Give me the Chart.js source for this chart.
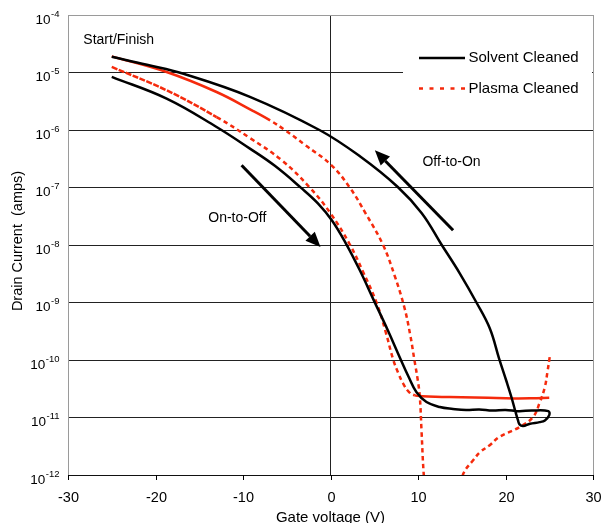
<!DOCTYPE html>
<html>
<head>
<meta charset="utf-8">
<title>Transfer curves</title>
<script src="https://cdn.jsdelivr.net/npm/chart.js@4.4.1/dist/chart.umd.min.js"></script>
<style>
  html, body { margin: 0; padding: 0; background: #fff; }
  #wrap { width: 603px; height: 523px; position: relative; }
</style>
</head>
<body>
<div id="wrap"><canvas id="ivChart"></canvas></div>
<script>
// gate sweep -25 V -> +25 V -> -25 V, drain current in amps
const solventVolts = [
  -25, -18.73, -13.02, -9.21, -6.36, -3.39, -1.44, 0.15, 1.75, 3.35, 4.95,
  6.55, 7.92, 8.95, 9.83, 10.97, 12.49,
  14, 15.5, 17, 18.5, 20, 21.5, 23, 24.9,
  25, 24.5, 23.9, 22.8, 22, 21.6, 21.43, 21.06, 20.68, 20.11, 19.26, 18.2,
  16.68, 14.77, 12.68, 10.43, 7.69, 3.36, -1.21, -9.21, -16.8, -20.98, -25
];
const solventAmps = [
  8.4e-6, 3.52e-6, 1.13e-6, 4.75e-7, 2.38e-7, 9.95e-8, 5.3e-8, 2.69e-8,
  1.07e-8, 3.63e-9, 1.09e-9, 3.29e-10, 1.11e-10, 5.0e-11, 2.74e-11, 1.86e-11,
  1.52e-11,
  1.41e-11, 1.35e-11, 1.38e-11, 1.32e-11, 1.35e-11, 1.29e-11, 1.32e-11,
  1.29e-11,
  1.1e-11, 8.9e-12, 8.3e-12, 7.8e-12, 7.1e-12, 7.6e-12, 8.9e-12, 1.39e-11,
  2.25e-11, 4.27e-11, 1.07e-10, 3.56e-10,
  1.0e-9, 3.22e-9, 1.02e-8, 3.56e-8, 1.02e-7, 3.49e-7, 9.9e-7, 3.78e-6,
  9.5e-6, 1.36e-5, 1.875e-5
];

// plasma cleaned, on-to-off sweep
const plasmaFwdVolts = [
  -25, -18.73, -13.02, -9.21, -5.56, -2.36, 0, 2.21, 3.69, 5.26, 6.32, 7.16,
  7.75, 8.3, 8.95, 9.63, 10.5, 12, 15, 18, 21, 23, 25
];
const plasmaFwdAmps = [
  1.25e-5, 4.9e-6, 1.68e-6, 7.26e-7, 2.97e-7, 9.95e-8, 3.56e-8, 1.02e-8,
  3.5e-9, 1.0e-9, 3.03e-10, 1.02e-10, 5.9e-11, 3.9e-11, 2.8e-11, 2.43e-11,
  2.35e-11, 2.3e-11, 2.26e-11, 2.2e-11, 2.15e-11, 2.16e-11, 2.2e-11
];

// plasma cleaned, off-to-on sweep (dips below 1e-12 near 11-14 V)
const plasmaRevVolts = [
  25.05, 24.8, 24.5, 23.9, 23.15, 21.6, 19.3, 18.2, 17.1, 16.3, 15.2, 14.6,
  10.9, 10.66, 10.4, 10.21, 9.98, 9.58, 9.12, 8.43, 7.35, 6.01, 4.04, 2.21,
  0.12, -2.93, -5.21, -6.9, -8.98, -13.02, -18.73, -25
];
const plasmaRevAmps = [
  1.12e-10, 6.3e-11, 3.4e-11, 1.8e-11, 1.02e-11, 6.8e-12, 4.6e-12, 3.3e-12,
  2.5e-12, 1.8e-12, 1.07e-12, 5e-13,
  5e-13, 1.0e-12, 5.98e-12, 2.28e-11, 4.4e-11, 1.02e-10, 2.69e-10, 8.36e-10,
  2.86e-9, 1.0e-8, 3.49e-8, 9.95e-8, 2.43e-7, 5.53e-7, 1.0e-6, 1.47e-6,
  2.2e-6, 4.58e-6, 1.02e-5, 1.91e-5
];

const seriesNames = ['Solvent Cleaned', 'Plasma Cleaned'];
const xTickValues = [-30, -20, -10, 0, 10, 20, 30];
const yTickPowers = [-12, -11, -10, -9, -8, -7, -6, -5, -4];

const FONT = "'Liberation Sans', Arial, sans-serif";
const BLACK = '#000000';
const RED = '#f52a0c';
const DASH = [4.5, 3.5];
const FINE_DASH = [6, 1.5];

// text labels and sweep-direction arrows, placed in data units
const notes = [
  { text: 'Start/Finish', x: -28.25, y: 3.7e-5 },
  { text: 'On-to-Off', x: -13.97, y: 2.9e-8 },
  { text: 'Off-to-On', x: 10.51, y: 2.78e-7 }
];
const arrows = [
  { from: [-10.16, 2.43e-7], to: [-1.14, 9.2e-9] },
  { from: [14.01, 1.8e-8], to: [5.07, 4.44e-7] }
];

function toPoints(xs, ys) {
  return xs.map((v, i) => ({ x: v, y: ys[i] }));
}

function drawArrow(ctx, x1, y1, x2, y2) {
  const ang = Math.atan2(y2 - y1, x2 - x1);
  const head = 15, half = 6.5;
  const bx = x2 - head * Math.cos(ang);
  const by = y2 - head * Math.sin(ang);
  ctx.lineWidth = 3;
  ctx.beginPath();
  ctx.moveTo(x1, y1);
  ctx.lineTo(bx, by);
  ctx.stroke();
  ctx.beginPath();
  ctx.moveTo(x2, y2);
  ctx.lineTo(bx + half * Math.sin(ang), by - half * Math.cos(ang));
  ctx.lineTo(bx - half * Math.sin(ang), by + half * Math.cos(ang));
  ctx.closePath();
  ctx.fill();
}

const overlay = {
  id: 'overlay',
  afterDatasetsDraw(chart) {
    const { ctx, chartArea: area } = chart;
    const x = chart.scales.x, y = chart.scales.y;
    ctx.save();
    ctx.fillStyle = '#000';
    ctx.strokeStyle = '#000';

    // x ticks and labels
    ctx.lineWidth = 1;
    ctx.font = '14.5px ' + FONT;
    ctx.textAlign = 'center';
    ctx.textBaseline = 'alphabetic';
    xTickValues.forEach(v => {
      const px = Math.round(x.getPixelForValue(v)) + 0.5;
      ctx.beginPath();
      ctx.moveTo(px, area.bottom);
      ctx.lineTo(px, area.bottom + 5);
      ctx.stroke();
      ctx.fillText(String(v), px, area.bottom + 27);
    });

    // y labels as powers of ten
    ctx.textAlign = 'left';
    yTickPowers.forEach(p => {
      const py = y.getPixelForValue(Number('1e' + p));
      const exp = String(p);
      ctx.font = '9.5px ' + FONT;
      const we = ctx.measureText(exp).width;
      ctx.font = '13.5px ' + FONT;
      const wb = ctx.measureText('10').width;
      const x0 = area.left - 9 - we - wb;
      ctx.fillText('10', x0, py + 8.5);
      ctx.font = '9.5px ' + FONT;
      ctx.fillText(exp, x0 + wb + 0.5, py + 1.5);
    });

    // axis titles
    ctx.font = '15px ' + FONT;
    ctx.textAlign = 'center';
    ctx.fillText('Gate voltage (V)', (area.left + area.right) / 2, area.bottom + 46.5);
    ctx.save();
    ctx.translate(18, (area.top + area.bottom) / 2 - 4);
    ctx.rotate(-Math.PI / 2);
    ctx.textBaseline = 'middle';
    ctx.font = '14.5px ' + FONT;
    ctx.fillText('Drain Current  (amps)', 0, 0);
    ctx.restore();

    // notes and arrows
    ctx.font = '14px ' + FONT;
    ctx.textAlign = 'left';
    ctx.textBaseline = 'middle';
    notes.forEach(n => {
      ctx.fillText(n.text, x.getPixelForValue(n.x), y.getPixelForValue(n.y));
    });
    arrows.forEach(a => {
      drawArrow(ctx,
        x.getPixelForValue(a.from[0]), y.getPixelForValue(a.from[1]),
        x.getPixelForValue(a.to[0]), y.getPixelForValue(a.to[1]));
    });

    // legend box inside the plot, top right
    const boxW = 190, boxL = area.right - boxW, boxT = area.top + 26;
    ctx.fillStyle = '#fff';
    ctx.fillRect(boxL, boxT, boxW - 1, 64);
    const rows = [
      { name: seriesNames[0], color: BLACK, dash: [] },
      { name: seriesNames[1], color: RED, dash: [4, 6.5] }
    ];
    ctx.font = '15px ' + FONT;
    rows.forEach((r, i) => {
      const ry = boxT + 17 + i * 30.5;
      ctx.strokeStyle = r.color;
      ctx.lineWidth = 2.5;
      ctx.setLineDash(r.dash);
      ctx.beginPath();
      ctx.moveTo(boxL + 16, ry);
      ctx.lineTo(boxL + 62, ry);
      ctx.stroke();
      ctx.setLineDash([]);
      ctx.fillStyle = '#000';
      ctx.fillText(r.name, boxL + 65.5, ry);
    });
    ctx.restore();
  }
};

const lineStyle = {
  pointRadius: 0,
  borderWidth: 2.5,
  tension: 0.4,
  fill: false
};

// forward sweep: fine dashes at the start, plain dashes, then a solid floor
function fwdDash(c) {
  if (c.p0.parsed.x >= 9.6) return [];
  return c.p1.parsed.x <= -12 ? FINE_DASH : DASH;
}

new Chart(document.getElementById('ivChart'), {
  type: 'line',
  data: {
    datasets: [
      Object.assign({
        label: seriesNames[0],
        data: toPoints(solventVolts, solventAmps),
        borderColor: BLACK
      }, lineStyle),
      Object.assign({
        label: seriesNames[1],
        data: toPoints(plasmaFwdVolts, plasmaFwdAmps),
        borderColor: RED,
        segment: { borderDash: fwdDash }
      }, lineStyle),
      Object.assign({
        label: seriesNames[1],
        data: toPoints(plasmaRevVolts, plasmaRevAmps),
        borderColor: RED,
        segment: { borderDash: c => c.p0.parsed.x < -6.5 ? [] : DASH }
      }, lineStyle)
    ]
  },
  options: {
    responsive: true,
    maintainAspectRatio: false,
    animation: false,
    layout: { padding: { left: 68, right: 10, top: 15, bottom: 48 } },
    elements: { line: { capBezierPoints: false } },
    plugins: {
      legend: { display: false },
      tooltip: { enabled: false }
    },
    scales: {
      x: {
        type: 'linear',
        min: -30,
        max: 30,
        afterBuildTicks: ax => { ax.ticks = xTickValues.map(v => ({ value: v })); },
        ticks: { display: false },
        grid: {
          drawTicks: false,
          lineWidth: 1,
          color: c => c.tick.value === 0 ? '#222' : (c.tick.value === 30 ? '#9a9a9a' : 'rgba(0,0,0,0)')
        },
        border: { color: '#111', width: 1 }
      },
      y: {
        type: 'logarithmic',
        min: 1e-12,
        max: 1e-4,
        afterBuildTicks: ax => { ax.ticks = yTickPowers.map(p => ({ value: Number('1e' + p) })); },
        ticks: { display: false },
        grid: {
          drawTicks: false,
          lineWidth: 1,
          color: c => c.index === yTickPowers.length - 1 ? '#9a9a9a' : '#222'
        },
        border: { color: '#9a9a9a', width: 1 }
      }
    }
  },
  plugins: [overlay]
});
</script>
</body>
</html>
